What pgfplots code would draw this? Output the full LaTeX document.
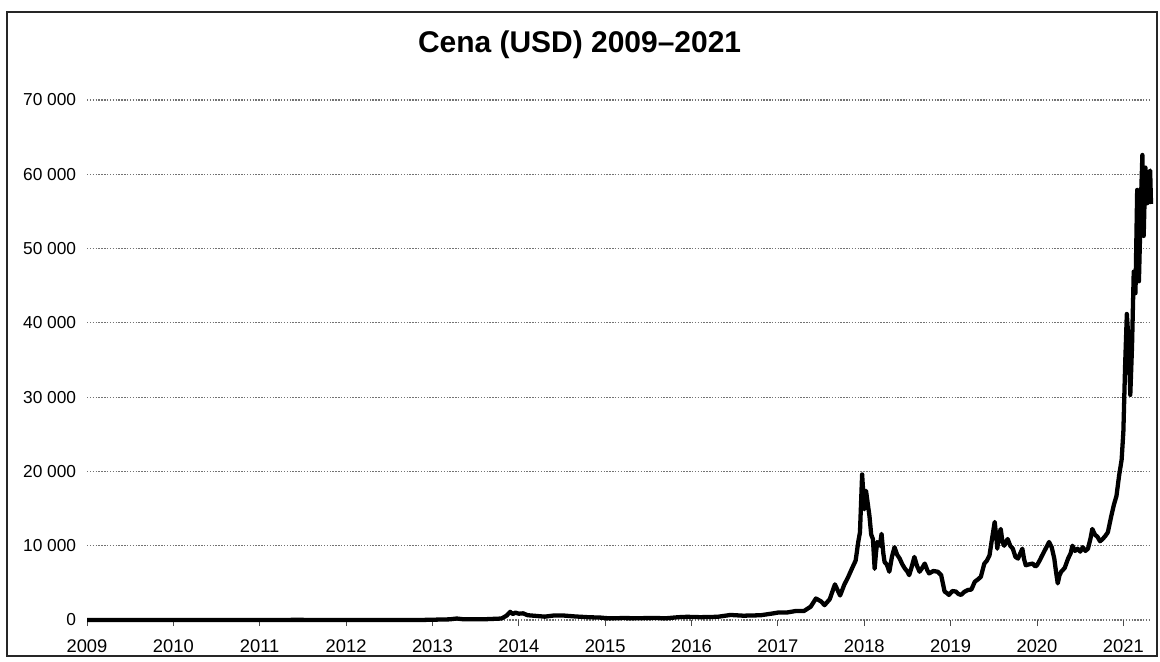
\documentclass[border=0pt]{standalone}
\usepackage{fontspec}
\setmainfont{Liberation Sans}
\usepackage{pgfplots}
\pgfplotsset{compat=1.18}
\usetikzlibrary{calc}
\begin{document}
\begin{tikzpicture}
\begin{axis}[
  scale only axis,
  width=18.345cm, height=8.966cm,
  xmin=2009, xmax=2021.32,
  ymin=0, ymax=70000,
  axis line style={draw=none},
  xtick={2009,2010,...,2021},
  xticklabels={2009,2010,2011,2012,2013,2014,2015,2016,2017,2018,2019,2020,2021},
  ytick={0,10000,...,70000},
  yticklabels={0,10 000,20 000,30 000,40 000,50 000,60 000,70 000},
  scaled y ticks=false,
  ymajorgrids,
  major grid style={black!55, dash pattern=on 0.7pt off 0.7pt, line width=0.6pt},
  tick align=outside,
  xtick pos=bottom,
  ytick style={draw=none},
  xtick style={black!70, thin},
  major tick length=3pt,
  /pgf/number format/assume math mode=true,
  xticklabel style={font=\fontsize{9}{11}\selectfont, yshift=-3pt},
  yticklabel style={font=\fontsize{8.5}{10}\selectfont, xshift=1.2pt},
  clip=false,
]
\addplot[black, line width=2.1pt, line join=round] coordinates {
(2009.0,0) (2009.5,0) (2010.0,0) (2010.55,0.07) (2011.0,0.3) (2011.45,20)
(2011.6,10) (2011.9,3) (2012.0,5) (2012.5,7) (2012.9,13) (2013.2,90)
(2013.28,200) (2013.35,110) (2013.6,100) (2013.8,200) (2013.86,600)
(2013.9,1100) (2013.93,800) (2013.96,1000) (2014.0,850) (2014.05,900)
(2014.1,650) (2014.2,550) (2014.3,450) (2014.4,600) (2014.5,620)
(2014.65,480) (2014.8,380) (2014.95,320) (2015.05,220) (2015.2,260)
(2015.4,240) (2015.55,280) (2015.7,230) (2015.85,380) (2015.95,430)
(2016.1,380) (2016.3,430) (2016.45,680) (2016.6,580) (2016.8,640)
(2016.95,900) (2017.0,1000) (2017.1,1000) (2017.2,1200) (2017.3,1200)
(2017.38,1800) (2017.44,2900) (2017.5,2500) (2017.54,2000) (2017.6,2800)
(2017.66,4800) (2017.72,3300) (2017.77,4800) (2017.81,5700) (2017.86,7000)
(2017.9,8000) (2017.93,10500) (2017.95,11800) (2017.975,19600) (2018.0,14900)
(2018.02,17400) (2018.06,14000) (2018.08,11500) (2018.10,10900) (2018.12,6900)
(2018.135,9000) (2018.15,10500) (2018.18,10000) (2018.20,11600) (2018.22,9000)
(2018.235,7800) (2018.26,7500) (2018.29,6500) (2018.32,8500) (2018.35,9800)
(2018.38,8800) (2018.41,8270) (2018.44,7500) (2018.47,6930) (2018.50,6500)
(2018.52,6040) (2018.55,7200) (2018.58,8490) (2018.61,7300) (2018.64,6500)
(2018.67,7000) (2018.70,7600) (2018.73,6700) (2018.75,6270) (2018.80,6600)
(2018.85,6500) (2018.89,6040) (2018.93,3830) (2018.96,3600) (2018.98,3380)
(2019.02,3900) (2019.06,3830) (2019.09,3500) (2019.12,3380) (2019.16,3800)
(2019.20,4040) (2019.24,4100) (2019.28,5160) (2019.32,5500) (2019.35,5830)
(2019.39,7600) (2019.42,8000) (2019.45,8700) (2019.48,11000) (2019.51,13200)
(2019.53,11000) (2019.54,9600) (2019.56,11500) (2019.58,12260) (2019.60,10500)
(2019.62,10000) (2019.64,10500) (2019.66,10900) (2019.69,10000) (2019.72,9600)
(2019.75,8500) (2019.78,8270) (2019.80,8800) (2019.83,9600) (2019.85,8200)
(2019.87,7370) (2019.91,7500) (2019.95,7600) (2019.98,7200) (2020.0,7370)
(2020.03,8000) (2020.06,8700) (2020.10,9600) (2020.14,10500) (2020.17,9800)
(2020.20,8270) (2020.22,6500) (2020.24,4930) (2020.26,6000) (2020.28,6500)
(2020.32,7000) (2020.36,8270) (2020.39,9000) (2020.41,10000) (2020.44,9300)
(2020.47,9600) (2020.50,9200) (2020.53,9800) (2020.56,9300) (2020.59,9600)
(2020.62,11000) (2020.64,12260) (2020.67,11500) (2020.70,11200) (2020.73,10600)
(2020.76,10900) (2020.79,11300) (2020.82,11800) (2020.86,14000) (2020.89,15500)
(2020.92,16700) (2020.95,19400) (2020.98,21600) (2021.0,25400) (2021.02,34200)
(2021.04,41200) (2021.06,37600) (2021.08,30300) (2021.10,36800) (2021.12,46900)
(2021.14,44000) (2021.16,57900) (2021.18,45600) (2021.2,55000) (2021.22,62600)
(2021.235,51700) (2021.255,60900) (2021.275,56100) (2021.29,60000) (2021.31,60500)
(2021.32,56000)
};
\end{axis}
\node[font=\bfseries\fontsize{14.7}{17}\selectfont] at ($(current axis.south west)!0.463!(current axis.south east) + (0,8.966cm+0.948cm)$) {Cena (USD) 2009--2021};
\pgfresetboundingbox
\path ([shift={(-1.5cm,-0.707cm)}]current axis.south west) rectangle ([shift={(0.155cm,1.724cm)}]current axis.north east);
\draw[black!85, line width=0.8pt] ([shift={(-1.379cm,-0.62cm)}]current axis.south west) rectangle ([shift={(0.103cm,1.517cm)}]current axis.north east);
\end{tikzpicture}
\end{document}
